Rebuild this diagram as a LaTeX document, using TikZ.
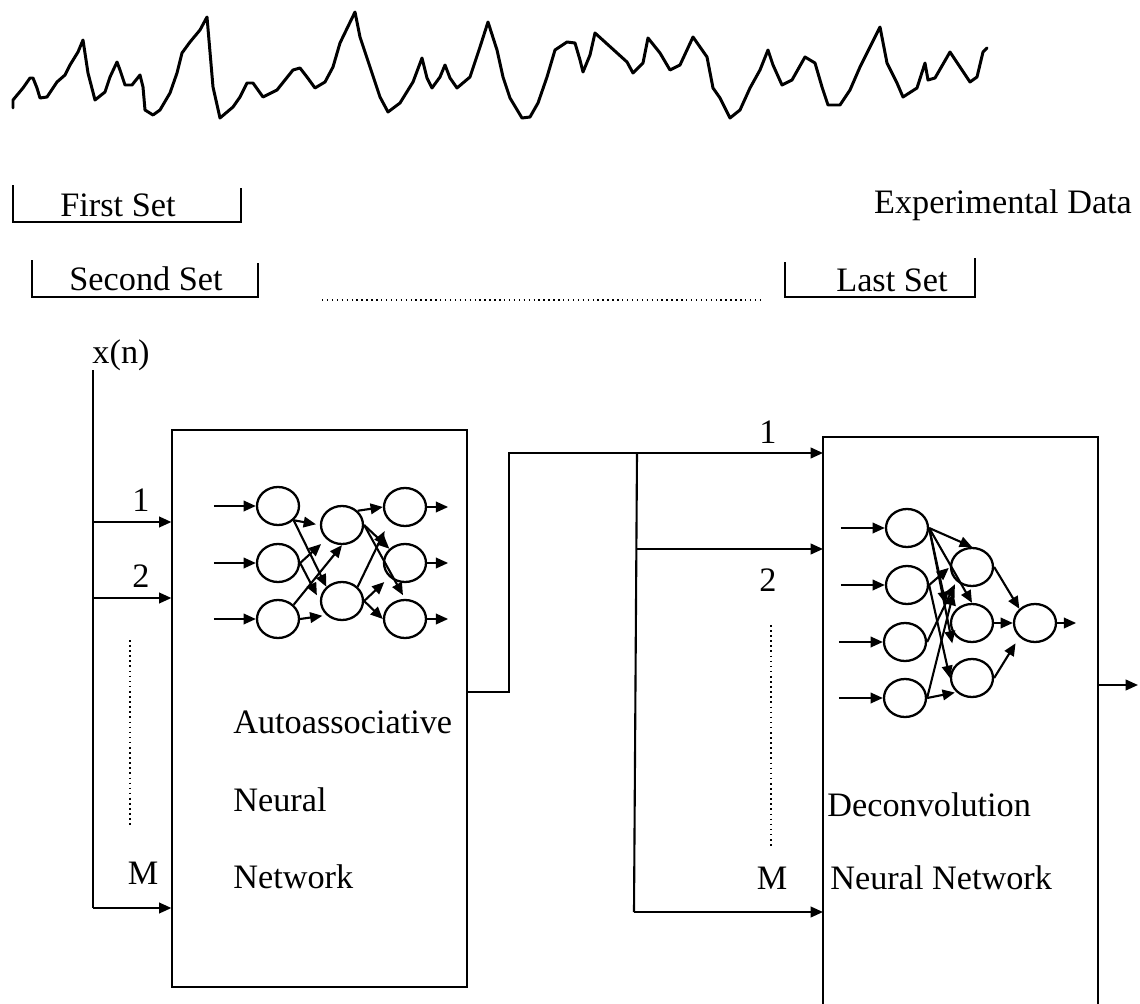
\documentclass[tikz,border=0pt]{standalone}
\usepackage{fontspec}
\setmainfont{Liberation Serif}
\usetikzlibrary{arrows.meta,shapes.geometric,calc}
\begin{document}
\begin{tikzpicture}[x=0.02cm,y=-0.02cm,
  lbl/.style={font=\fontsize{19.5}{23}\selectfont, inner sep=0pt},
  neuron/.style={draw, ellipse, line width=1.3pt, minimum width=0.84cm, minimum height=0.76cm, inner sep=0pt},
  arr/.style={line width=1.2pt, -{Triangle[length=7pt,width=6pt]}},
  wire/.style={line width=1.2pt},
  boxline/.style={line width=0.7pt},
  brk/.style={line width=1.1pt},
  sig/.style={line width=1.7pt, line join=round, line cap=round}]
\useasboundingbox (0,0) rectangle (1140,1004);

% ---------------- signal ----------------
\draw[sig] (13,108) -- (13,100) -- (23,88) -- (30,78) -- (33,78) -- (37,88) -- (40,98) -- (47,97) -- (57,82) -- (65,75) -- (70,65) -- (78,52) -- (83,40) -- (88,73) -- (95,100) -- (105,92) -- (110,77) -- (117,62) -- (120,70) -- (125,85) -- (132,85) -- (140,75) -- (143,87) -- (145,110) -- (153,115) -- (160,110) -- (170,93) -- (177,73) -- (182,53) -- (190,42) -- (200,30) -- (207,17) -- (213,87) -- (220,118) -- (233,107) -- (240,97) -- (247,83) -- (253,83) -- (263,97) -- (277,90) -- (293,70) -- (300,68) -- (307,77) -- (315,88) -- (325,82) -- (333,67) -- (340,43) -- (355,12) -- (360,37) -- (370,67) -- (380,97) -- (388,112) -- (400,103) -- (413,82) -- (422,58) -- (427,78) -- (432,88) -- (440,77) -- (445,65) -- (450,78) -- (457,88) -- (470,77) -- (480,47) -- (488,22) -- (497,50) -- (503,77) -- (510,98) -- (522,118) -- (530,117) -- (538,103) -- (547,77) -- (555,50) -- (567,42) -- (575,43) -- (580,60) -- (583,72) -- (590,55) -- (595,33) -- (627,62) -- (633,73) -- (643,63) -- (648,38) -- (660,53) -- (670,70) -- (680,65) -- (693,37) -- (707,57) -- (713,88) -- (720,98) -- (730,118) -- (740,110) -- (750,88) -- (760,70) -- (768,50) -- (773,65) -- (782,85) -- (792,80) -- (805,57) -- (815,63) -- (822,87) -- (828,105) -- (840,105) -- (850,90) -- (860,67) -- (872,43) -- (880,27) -- (887,63) -- (897,83) -- (903,97) -- (917,88) -- (925,63) -- (928,80) -- (935,78) -- (950,52) -- (960,67) -- (970,82) -- (977,77) -- (983,52) -- (987,48);

% ---------------- data sets ----------------
\node[lbl] (first) at (118,205) {First Set};
\draw[brk] (13,185) |- (241,222) -- (241,188);
\node[lbl] (second) at (146,279) {Second Set};
\draw[brk] (32,260) |- (258,297) -- (258,263);
\node[lbl] (last) at (892,280) {Last Set};
\draw[brk] (785,262) |- (975,297) -- (975,258);
\node[lbl] (expdata) at (1003,205) {Experimental Data};
\draw[line width=0.8pt, dotted] (322,300) -- (760,300);

% ---------------- input line ----------------
\node[lbl] (xn) at (121,355) {x(n)};
\coordinate (xtop) at (93,370);
\coordinate (xbot) at (93,908);
\draw[wire] (xtop) -- (xbot);

% ---------------- left box ----------------
\node[draw, boxline, minimum width=5.9cm, minimum height=11.14cm, inner sep=0pt] (AB) at (319.5,708.5) {};
\coordinate (x1) at (93,522);
\coordinate (x2) at (93,598);
\draw[arr] (x1) -- (x1 -| AB.west);
\draw[arr] (x2) -- (x2 -| AB.west);
\draw[arr] (xbot) -- (xbot -| AB.west);
\node[lbl] (l1) at (141,500) {1};
\node[lbl] (l2) at (141,576) {2};
\node[lbl] (lM) at (143,873) {M};
\draw[line width=0.9pt, dotted] (130,640) -- (130,825);
\node[lbl, anchor=west] (t1) at (233,722) {Autoassociative};
\node[lbl, anchor=west] (t2) at (233,800) {Neural};
\node[lbl, anchor=west] (t3) at (233,877) {Network};

% left network
\node[neuron] (I1) at (278,506) {};
\node[neuron] (I2) at (278,563) {};
\node[neuron] (I3) at (278,619) {};
\node[neuron] (H1) at (342,525) {};
\node[neuron] (H2) at (342,601) {};
\node[neuron] (O1) at (405,507) {};
\node[neuron] (O2) at (405,563) {};
\node[neuron] (O3) at (405,619) {};
\foreach \n in {I1,I2,I3} \draw[arr] (\n.west) ++(-42,0) -- (\n.west);
\foreach \n in {O1,O2,O3} \draw[arr] (\n.east) -- ++(21,0);
\draw[arr] (I1.south east) -- ($(I1.south east)!0.85!(H1.west)$);
\draw[arr] (I1.south east) -- (H2.north west);
\draw[arr] (I2.east) -- ($(I2.east)!0.8!(H1.south west)$);
\draw[arr] (I2.east) -- ($(I2.east)!0.85!(H2.west)$);
\draw[arr] (I3.north east) -- (H1.south);
\draw[arr] (I3.east) -- ($(I3.east)!0.85!(H2.south west)$);
\draw[arr] (H1.north east) -- (O1.west);
\draw[arr] (H1.east) -- (O2.north west);
\draw[arr] (H1.east) -- ($(H1.east)!0.95!(O3.north)$);
\draw[arr] (H2.north east) -- ($(H2.north east)!0.85!(O1.south west)$);
\draw[arr] (H2.east) -- ($(H2.east)!0.8!(O2.south west)$);
\draw[arr] (H2.east) -- (O3.west);

% ---------------- connection between boxes ----------------
\coordinate (o1) at (467,692);
\coordinate (o2) at (509,692);
\coordinate (o3) at (509,453);
\coordinate (br) at (637,453);
\coordinate (br2) at (637,549);
\coordinate (br3) at (634,912);
\coordinate (rb1) at (823,453);
\coordinate (rb2) at (823,549);
\coordinate (rbM) at (823,912);
\draw[boxline] (o1) -- (o2) -- (o3) -- (br);
\draw[arr] (br) -- (rb1);
\draw[wire] (br) -- (br3);
\draw[arr] (br2) -- (rb2);
\draw[arr] (br3) -- (rbM);
\node[lbl] (r1) at (768,432) {1};
\node[lbl] (r2) at (768,580) {2};
\node[lbl] (rM) at (772,878) {M};
\draw[line width=0.9pt, dotted] (771,625) -- (771,848);

% ---------------- right box ----------------
\coordinate (RB1) at (823,1004);
\coordinate (RB2) at (823,437);
\coordinate (RB3) at (1098,437);
\coordinate (RB4) at (1098,1004);
\draw[boxline] (RB1) -- (RB2) -- (RB3) -- (RB4);
\node[lbl, anchor=west] (d1) at (827,805) {Deconvolution};
\node[lbl, anchor=west] (d2) at (830,878) {Neural Network};
\coordinate (out1) at (1098,685);
\coordinate (out2) at (1138,685);
\draw[arr] (out1) -- (out2);

% right network
\node[neuron] (A1) at (907,528) {};
\node[neuron] (A2) at (907,585) {};
\node[neuron] (A3) at (905,642) {};
\node[neuron] (A4) at (905,698) {};
\node[neuron] (B1) at (972,567) {};
\node[neuron] (B2) at (972,623) {};
\node[neuron] (B3) at (972,678) {};
\node[neuron] (C1) at (1035,623) {};
\foreach \n in {A1,A2,A3,A4} \draw[arr] (\n.west) ++(-44,0) -- (\n.west);
\draw[arr] (C1.east) -- ++(19,0);
\draw[arr] (A1.east) -- (B1.north);
\draw[arr] (A1.east) -- (B2.north);
\draw[arr] (A1.east) -- ($(A1.east)!0.85!(B3.north west)$);
\draw[arr] (A1.east) -- ($(A1.east)!0.8!(B2.west)$);
\draw[arr] (A2.east) -- ($(A2.east)!0.95!(B1.west)$);
\draw[arr] (A2.east) -- (B3.west);
\draw[arr] (A3.east) -- ($(A3.east)!0.95!(B1.south west)$);
\draw[arr] (A4.east) -- ($(A4.east)!0.9!(B1.south west)$);
\draw[arr] (A4.east) -- ($(A4.east)!0.95!(B3.south west)$);
\draw[arr] (B1.east) -- (C1.north west);
\draw[arr] (B2.east) -- (C1.west);
\draw[arr] (B3.east) -- ($(B3.east)!0.85!(C1.south west)$);
\end{tikzpicture}
\end{document}
